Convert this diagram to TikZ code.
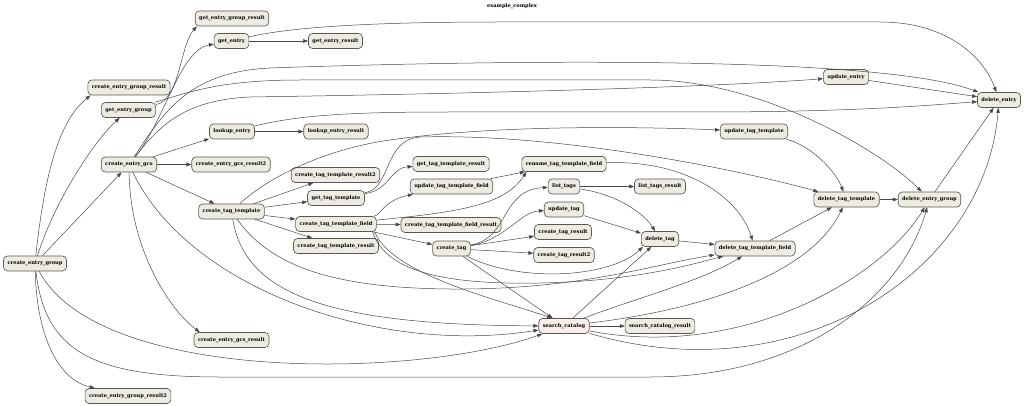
\documentclass[tikz,border=0pt]{standalone}
\usepackage{fontspec}
\setmainfont{DejaVu Serif}
\usetikzlibrary{arrows.meta}
\definecolor{taskfill}{HTML}{EEEBE2}
\definecolor{searchfill}{HTML}{FDEEEA}
\definecolor{taskline}{HTML}{5A5853}

\begin{document}
\begin{tikzpicture}[x=1pt,y=-1pt,
  task/.style={draw=taskline,fill=taskfill,rounded corners=4pt,line width=0.65pt,
    inner xsep=4pt,minimum height=15pt,font=\fontsize{5.1}{6}\selectfont\bfseries},
  dep/.style={-{Triangle[length=5pt,width=3.6pt]},draw=black!72,line width=0.5pt}]
\useasboundingbox (0,0) rectangle (1024,406);

\node[font=\fontsize{5.1}{6}\selectfont\bfseries] (title) at (512,6) {example\_complex};

% rank 0 and 1
\node[task] (cEG) at (35,263.5) {create\_entry\_group};
\node[task] (cEGr) at (129,87.5) {create\_entry\_group\_result};
\node[task] (gEG) at (128.5,110) {get\_entry\_group};
\node[task] (cGCS) at (129,164.5) {create\_entry\_gcs};
\node[task] (cEGr2) at (128,396) {create\_entry\_group\_result2};
% rank 2
\node[task] (gEGr) at (232,18.5) {get\_entry\_group\_result};
\node[task] (gE) at (231.5,41) {get\_entry};
\node[task] (lE) at (232,131.5) {lookup\_entry};
\node[task] (cGCSr2) at (231,164.5) {create\_entry\_gcs\_result2};
\node[task] (cTT) at (231.5,211.5) {create\_tag\_template};
\node[task] (cGCSr) at (231.5,340) {create\_entry\_gcs\_result};
% rank 3
\node[task] (gEr) at (335.5,41) {get\_entry\_result};
\node[task] (lEr) at (336,131.5) {lookup\_entry\_result};
\node[task] (cTTr2) at (335.5,175) {create\_tag\_template\_result2};
\node[task] (gTT) at (336,198) {get\_tag\_template};
\node[task] (cTTF) at (336,224) {create\_tag\_template\_field};
\node[task] (cTTr) at (336,246) {create\_tag\_template\_result};
% rank 4
\node[task] (gTTr) at (451,164) {get\_tag\_template\_result};
\node[task] (uTTF) at (451.5,186.5) {update\_tag\_template\_field};
\node[task] (cTTFr) at (451,225) {create\_tag\_template\_field\_result};
\node[task] (cT) at (451.5,248.5) {create\_tag};
% rank 5
\node[task] (rTTF) at (564,164) {rename\_tag\_template\_field};
\node[task] (lT) at (564,186.5) {list\_tags};
\node[task] (uT) at (564,209.5) {update\_tag};
\node[task] (cTr) at (563,232) {create\_tag\_result};
\node[task] (cTr2) at (564,255) {create\_tag\_result2};
\node[task,fill=searchfill] (sC) at (564,326) {search\_catalog};
% rank 6 and up
\node[task] (lTr) at (660,186.5) {list\_tags\_result};
\node[task] (dT) at (660,239) {delete\_tag};
\node[task] (sCr) at (660,326) {search\_catalog\_result};
\node[task] (uTT) at (754,131.5) {update\_tag\_template};
\node[task] (dTTF) at (755,248.5) {delete\_tag\_template\_field};
\node[task] (uE) at (846,77) {update\_entry};
\node[task] (dTT) at (846.5,199.5) {delete\_tag\_template};
\node[task] (dEG) at (929.5,199.5) {delete\_entry\_group};
\node[task] (dE) at (999,100) {delete\_entry};

% create_entry_group
\draw[dep] (cEG) .. controls (45,170) and (60,120) .. ([xshift=3pt]cEGr.south west);
\draw[dep] (cEG) .. controls (55,200) and (95,140) .. (gEG);
\draw[dep] (cEG) -- (cGCS);
\draw[dep] (cEG) .. controls (37,340) and (60,380) .. (cEGr2);
\draw[dep] (cEG) .. controls (100,385) and (420,378) .. (sC);
\draw[dep] (cEG) .. controls (45,350) and (90,377) .. (220,377) -- (650,377)
  .. controls (800,377) and (900,300) .. (dEG);

% create_entry_gcs
\draw[dep] (cGCS) -- (cTT);
\draw[dep] (cGCS) -- (cGCSr2);
\draw[dep] (cGCS) -- (lE);
\draw[dep] (cGCS) .. controls (165,120) and (180,50) .. (gE);
\draw[dep] (cGCS) .. controls (165,110) and (190,72) .. (270,68)
  .. controls (500,60) and (880,55) .. (dE);
\draw[dep] (cGCS) .. controls (160,125) and (185,100) .. (250,97)
  .. controls (450,94) and (700,88) .. (uE);
\draw[dep] (cGCS) .. controls (130,250) and (170,310) .. ([xshift=6pt]cGCSr.north west);
\draw[dep] (cGCS) .. controls (190,290) and (380,355) .. (sC);

% get_entry_group, get_entry, lookup_entry
\draw[dep] (gEG) .. controls (180,100) and (180,45) .. ([xshift=2pt]gEGr.south west);
\draw[dep] (gEG) .. controls (190,92) and (220,80) .. (300,80) -- (650,80)
  .. controls (760,80) and (880,150) .. (dEG);
\draw[dep] (gE) -- (gEr);
\draw[dep] (gE) .. controls (300,25) and (400,22) .. (500,22) -- (880,22)
  .. controls (950,22) and (985,60) .. (dE);
\draw[dep] (lE) -- (lEr);
\draw[dep] (lE) .. controls (300,115) and (350,112) .. (450,112) -- (700,112)
  .. controls (850,112) and (920,106) .. (dE);

% create_tag_template
\draw[dep] (cTT) -- (cTTr2);
\draw[dep] (cTT) -- (gTT);
\draw[dep] (cTT) -- (cTTF);
\draw[dep] (cTT) -- (cTTr);
\draw[dep] (cTT) .. controls (265,180) and (320,150) .. (390,140)
  .. controls (500,124) and (650,127) .. (uTT);
\draw[dep] (cTT) .. controls (270,265) and (330,288) .. (450,289)
  .. controls (580,290) and (650,265) .. (dTTF);
\draw[dep] (cTT) .. controls (245,295) and (330,325) .. (sC);

% get_tag_template
\draw[dep] (gTT) .. controls (390,190) and (390,168) .. (gTTr);
\draw[dep] (gTT) .. controls (392,188) and (383,140) .. (420,137)
  .. controls (560,133) and (740,170) .. (dTT);

% create_tag_template_field
\draw[dep] (cTTF) -- (cTTFr);
\draw[dep] (cTTF) -- (cT);
\draw[dep] (cTTF) .. controls (380,215) and (385,200) .. (uTTF);
\draw[dep] (cTTF) .. controls (460,212) and (505,205) .. ([xshift=5pt]rTTF.south west);
\draw[dep] ([xshift=-4pt]cTTF.south east) .. controls (385,270) and (440,285) .. (540,283)
  .. controls (640,281) and (700,262) .. (dTTF);
\draw[dep] ([xshift=-2pt]cTTF.south east) .. controls (392,275) and (500,300) .. ([xshift=-12pt]sC.north);
\draw[dep] (uTTF) -- (rTTF);

% create_tag
\draw[dep] (cT) -- (cTr);
\draw[dep] (cT) -- (cTr2);
\draw[dep] (cT) .. controls (505,240) and (520,212) .. (uT);
\draw[dep] (cT) .. controls (510,238) and (500,190) .. (lT);
\draw[dep] (cT) .. controls (520,283) and (610,278) .. ([xshift=2pt]dT.south west);
\draw[dep] (cT) -- (sC);

% list_tags, update_tag, rename
\draw[dep] (lT) -- (lTr);
\draw[dep] (lT) .. controls (620,195) and (645,215) .. (dT);
\draw[dep] (uT) -- (dT);
\draw[dep] (rTTF) .. controls (690,160) and (740,200) .. (dTTF);

% search_catalog
\draw[dep] (sC) -- (sCr);
\draw[dep] (sC) -- (dT);
\draw[dep] (sC) .. controls (630,300) and (700,282) .. (dTTF);
\draw[dep] (sC) .. controls (700,310) and (810,275) .. (dTT);
\draw[dep] (sC) .. controls (740,360) and (880,280) .. (dEG);
\draw[dep] (sC) .. controls (800,395) and (985,270) .. (dE);

% delete chain
\draw[dep] (uTT) .. controls (810,145) and (835,170) .. (dTT);
\draw[dep] (uE) -- (dE);
\draw[dep] (dT) -- (dTTF);
\draw[dep] (dTTF) -- (dTT);
\draw[dep] (dTT) -- (dEG);
\draw[dep] (dEG) -- (dE);
\end{tikzpicture}
\end{document}
